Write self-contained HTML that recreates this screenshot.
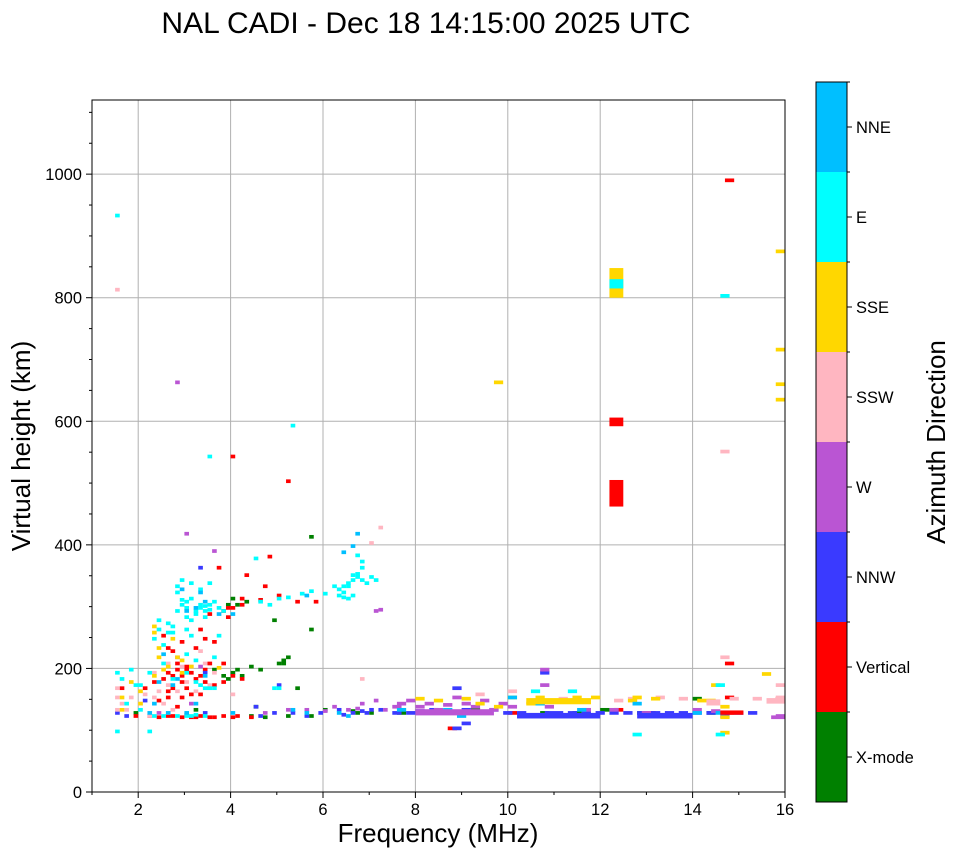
<!DOCTYPE html>
<html><head><meta charset="utf-8"><style>
body{margin:0;background:#fff;}
svg text{font-family:"Liberation Sans",sans-serif;fill:#000;}
</style></head><body>
<svg id="chart" width="958" height="857" xmlns="http://www.w3.org/2000/svg">
<defs><clipPath id="pc"><rect x="92" y="100" width="693" height="692"/></clipPath></defs>
<text x="426" y="33" font-size="30" text-anchor="middle">NAL CADI - Dec 18 14:15:00 2025 UTC</text>
<g id="grid"></g>
<g id="marks" clip-path="url(#pc)"></g>
<rect x="92" y="100" width="693" height="692" fill="none" stroke="#000" stroke-width="1"/>
<g id="axes"></g>
<text x="438" y="842" font-size="26" text-anchor="middle">Frequency (MHz)</text>
<text transform="translate(30,446) rotate(-90)" font-size="26" text-anchor="middle">Virtual height (km)</text>
<g id="cbar"></g>
<text transform="translate(945,442) rotate(-90)" font-size="26" text-anchor="middle">Azimuth Direction</text>
</svg>
<script>
const dirNames=["X-mode","Vertical","NNW","W","SSW","SSE","E","NNE"];
const dirColors=["#008000","#ff0000","#3a3aff","#ba55d3","#ffb6c1","#ffd700","#00ffff","#00bfff"];
const xTicks=[2,4,6,8,10,12,14,16];
const yTicks=[0,200,400,600,800,1000];
const xMin=1,xMax=16,yMin=0,yMax=1120;

const xmodeEchoes=[[1.9,125],[3.9,180],[4.1,195],[4.4,200],[4.6,195],[5.0,205],[5.1,210],[5.2,215],[5.7,260],[4.9,275],[5.7,410],[5.4,165],[3.9,300],[4.3,305],[4.0,310],[6.7,125],[7.6,125],[9.2,130],[10.7,125],[11.4,125],[12.0,130],[12.8,125],[14.0,148],[14.3,125],[4.5,135],[3.6,195],[4.7,118],[5.7,120],[6.0,130],[5.2,120],[4.4,120],[3.2,130],[4.0,190],[4.2,185],[3.8,185],[5.1,205],[4.1,300],[6.6,128],[7.0,125]];
const verticalEchoes=[[1.9,120],[2.4,118],[2.6,120],[2.9,118],[3.1,118],[3.3,120],[3.8,120],[4.1,120],[1.6,165],[2.3,175],[2.5,180],[2.6,190],[2.8,195],[2.9,185],[3.0,200],[3.2,180],[3.4,195],[3.5,205],[3.8,205],[2.7,165],[3.0,165],[2.6,230],[3.2,230],[2.9,240],[3.6,240],[3.3,260],[2.5,250],[3.5,285],[3.9,280],[4.0,295],[4.2,300],[4.6,308],[5.4,305],[5.0,315],[5.8,305],[4.0,540],[5.2,500],[4.8,378],[4.3,348],[4.7,330],[3.7,360],[4.2,310],[2.4,145],[2.6,150],[2.8,135],[3.3,155],[3.6,170],[4.0,185],[4.2,180],[3.8,175],[8.7,100],[9.2,125],[10.0,125],[11.0,120],[12.3,130],[13.0,125],[14.7,150],[14.7,125],[14.7,205],[14.7,987],[15.8,148],[2.2,120],[3.5,118],[2.1,165],[2.7,185],[2.9,175],[3.1,190],[3.3,185],[3.4,175],[2.8,205],[3.0,195],[2.7,120],[3.0,122],[3.2,118],[3.6,118],[4.0,118],[2.6,160],[3.1,155],[2.9,150],[3.8,290],[3.9,295],[2.7,225],[3.4,245],[4.4,118]];
const nnwEchoes=[[1.5,125],[1.7,120],[3.4,125],[4.6,120],[4.9,125],[5.3,125],[5.6,120],[5.9,125],[6.3,130],[6.6,125],[6.9,125],[7.2,130],[7.5,125],[7.8,125],[8.2,125],[8.4,125],[8.6,125],[8.8,165],[9.0,130],[9.3,125],[9.6,130],[9.9,125],[10.2,125],[10.5,120],[10.8,125],[11.0,125],[11.3,125],[11.6,125],[11.9,125],[12.2,125],[12.5,125],[12.8,125],[13.1,125],[13.4,125],[13.7,125],[14.0,125],[14.3,125],[14.6,120],[14.9,125],[15.2,125],[8.8,100],[3.4,190],[5.0,170],[3.3,360],[2.1,145],[4.5,135],[10.7,190],[9.0,108],[6.4,122],[6.8,128],[7.0,130],[8.0,128],[8.3,130]];
const wEchoes=[[3.6,387],[3.0,415],[2.8,660],[7.1,290],[7.2,292],[2.8,215],[3.3,200],[2.4,125],[10.7,195],[10.7,170],[6.2,135],[6.5,130],[6.8,140],[7.1,145],[7.5,135],[7.8,145],[8.0,135],[8.2,140],[8.4,130],[8.6,138],[8.8,150],[9.0,140],[9.2,135],[9.4,145],[9.6,130],[9.8,140],[10.0,135],[10.6,140],[10.8,135],[11.6,130],[12.2,130],[12.9,125],[14.0,130],[14.4,128],[15.8,120],[5.2,130],[5.6,130],[3.1,140],[6.0,128],[4.7,125],[6.7,132],[7.3,130],[7.6,140]];
const sswEchoes=[[1.5,165],[1.6,140],[1.8,150],[2.0,140],[2.3,150],[2.4,160],[2.6,170],[2.8,160],[3.0,175],[3.2,160],[3.4,205],[3.3,225],[2.9,200],[2.2,120],[2.7,130],[3.6,190],[4.0,155],[1.5,810],[6.8,180],[7.2,425],[7.0,400],[14.6,215],[14.6,548],[15.8,170],[10.0,160],[12.3,145],[13.2,150],[14.8,148],[15.3,148],[12.6,148],[13.7,148],[9.3,155],[11.1,148],[15.8,150],[2.6,205],[3.1,200],[1.5,130],[1.5,150],[1.7,130],[2.1,155],[2.5,140],[2.3,190],[3.5,170],[2.6,125]];
const sseEchoes=[[2.3,265],[2.3,255],[2.4,230],[2.7,245],[2.8,215],[2.9,210],[2.6,200],[3.1,200],[2.3,185],[2.9,190],[3.7,198],[1.8,175],[1.6,150],[2.0,160],[9.7,660],[15.8,872],[15.8,713],[15.8,657],[15.8,632],[15.5,188],[14.4,170],[14.6,93],[14.6,118],[14.6,135],[8.4,145],[9.0,148],[10.6,150],[11.0,145],[11.8,150],[12.6,145],[13.1,148],[10.4,140],[9.3,140],[8.0,148],[9.7,135],[10.8,145],[12.7,150],[14.1,145],[14.3,145],[11.4,150],[10.0,150],[1.6,130],[2.0,140],[2.4,215],[2.5,195]];
const eEchoes=[[2.3,245],[2.4,260],[2.5,235],[2.6,270],[2.7,255],[2.8,290],[2.9,300],[3.0,305],[3.1,310],[3.2,285],[3.3,295],[3.4,290],[3.5,300],[3.6,305],[3.7,295],[3.8,290],[3.4,280],[3.0,280],[2.8,320],[3.3,325],[3.5,335],[2.9,340],[2.8,330],[3.1,335],[3.6,215],[3.2,210],[3.0,220],[2.5,205],[4.6,305],[4.8,300],[5.0,310],[5.2,312],[5.5,318],[5.7,322],[6.0,318],[4.9,165],[3.4,165],[3.6,165],[3.2,175],[3.0,190],[2.2,190],[2.0,170],[1.5,190],[1.6,180],[1.8,195],[2.5,120],[2.8,120],[3.0,120],[3.4,120],[2.2,95],[1.5,95],[12.7,90],[14.5,90],[14.5,170],[10.5,160],[11.3,160],[6.4,320],[6.5,330],[6.6,340],[6.7,350],[6.8,360],[6.6,315],[6.5,310],[6.3,325],[6.9,335],[7.0,345],[7.1,340],[6.7,380],[6.8,370],[5.0,165],[4.5,375],[6.2,330],[5.3,590],[1.5,930],[3.5,540],[2.4,275],[3.0,260],[3.7,250],[3.1,250],[14.6,800],[3.3,300],[3.4,298],[3.5,292],[3.2,290],[2.9,308],[3.0,295],[2.6,255],[2.7,265],[3.1,275],[6.6,348],[6.7,345],[6.4,330],[6.5,335],[6.8,340],[6.3,315],[6.4,312],[2.7,180],[3.3,170],[3.5,165],[1.7,140],[2.0,130],[2.3,120],[3.1,120],[3.2,122],[1.9,170]];
const nneEchoes=[[6.4,385],[6.6,395],[6.7,415],[3.0,290],[2.9,325],[3.2,295],[3.7,285],[4.0,285],[2.7,170],[3.4,185],[2.5,220],[5.6,315],[6.3,125],[6.5,120],[8.9,120],[9.0,125],[10.0,150],[10.6,140],[11.5,130],[12.7,140],[14.0,125],[14.5,125],[2.2,125],[2.6,125],[3.0,125],[4.0,125],[3.2,140],[2.3,140],[5.3,130],[5.6,125],[7.6,130],[8.6,130],[3.3,320],[3.4,305],[2.8,180],[2.4,175]];
const echoSeries=[xmodeEchoes,verticalEchoes,nnwEchoes,wEchoes,sswEchoes,sseEchoes,eEchoes,nneEchoes];

// extended blocks: start freq, end freq, bottom km, top km, direction
const blockF0=[12.2,12.2,12.2,12.2,10.2,12.8,8.0,14.6,14.3,15.6,15.7,10.4];
const blockF1=[12.5,12.5,12.5,12.5,12.0,14.0,9.7,15.1,14.6,16.0,16.0,11.8];
const blockH0=[462,592,800,815,119,119,124,125,140,143,118,142];
const blockH1=[505,606,848,830,128,128,134,132,150,152,124,152];
const blockC=[1,1,5,6,2,2,3,1,4,4,3,5];

const X=f=>92+(f-xMin)/(xMax-xMin)*693;
const Y=h=>792-(h-yMin)/(yMax-yMin)*692;
const NS="http://www.w3.org/2000/svg";
function mk(tag,attrs,parent){const e=document.createElementNS(NS,tag);for(const k in attrs)e.setAttribute(k,attrs[k]);parent.appendChild(e);return e;}
const grid=document.getElementById('grid'),marks=document.getElementById('marks'),axes=document.getElementById('axes'),cbar=document.getElementById('cbar');

xTicks.forEach(t=>{
  const l=mk('line',{x1:X(t),x2:X(t),y1:100,y2:792,stroke:'#b0b0b0','stroke-width':1},grid);
  
  
  mk('line',{x1:X(t),x2:X(t),y1:792,y2:798,stroke:'#000'},axes);
  const tx=mk('text',{x:X(t),y:815,'font-size':16.5,'text-anchor':'middle'},axes);tx.textContent=t;
  
  
});
for(let f=1;f<=15;f+=2)mk('line',{x1:X(f),x2:X(f),y1:792,y2:795,stroke:'#000'},axes);
yTicks.forEach(t=>{
  const l=mk('line',{x1:92,x2:785,y1:Y(t),y2:Y(t),stroke:'#b0b0b0','stroke-width':1},grid);
  
  
  mk('line',{x1:86,x2:92,y1:Y(t),y2:Y(t),stroke:'#000'},axes);
  const tx=mk('text',{x:82,y:Y(t)+6,'font-size':16.5,'text-anchor':'end'},axes);tx.textContent=t;
  
  
});
for(let h=50;h<=1100;h+=50)if(h%200)mk('line',{x1:89,x2:92,y1:Y(h),y2:Y(h),stroke:'#000'},axes);

echoSeries.forEach((s,ci)=>{
  s.forEach(p=>{
    const w=p[0]<7.5?0.1:0.2;
    const r=mk('rect',{x:X(p[0]),y:Y(p[1]+6),width:X(p[0]+w)-X(p[0]),height:Y(0)-Y(6),fill:dirColors[ci]},marks);
    
    
  });
});
blockF0.forEach((f0,i)=>{
  const r=mk('rect',{x:X(f0),y:Y(blockH1[i]),width:X(blockF1[i])-X(f0),height:Y(blockH0[i])-Y(blockH1[i]),fill:dirColors[blockC[i]]},marks);
  
  
});

dirNames.forEach((n,i)=>{
  const y0=802-(i+1)*90;
  const r=mk('rect',{x:816,y:y0,width:31,height:90,fill:dirColors[i]},cbar);
  
  
  mk('line',{x1:847,x2:852,y1:y0+45,y2:y0+45,stroke:'#000'},cbar);
  mk('line',{x1:847,x2:850,y1:y0,y2:y0,stroke:'#000'},cbar);
  const t=mk('text',{x:856,y:y0+51,'font-size':16.5},cbar);t.textContent=n;
  
  
});
mk('rect',{x:816,y:82,width:31,height:720,fill:'none',stroke:'#000'},cbar);
</script>
</body></html>
